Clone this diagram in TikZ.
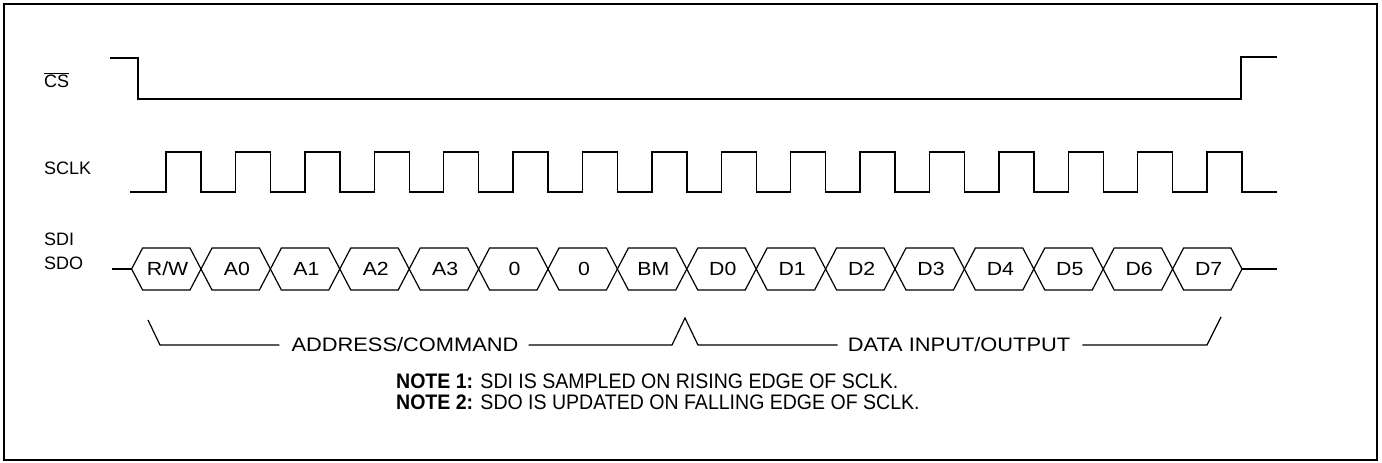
\documentclass[tikz,border=0pt]{standalone}
\usepackage{fontspec}
\setmainfont{Liberation Sans}
\newfontfamily\notefont[FakeStretch=0.93]{Liberation Sans}
\newfontfamily\widefont[FakeStretch=1.12]{Liberation Sans}
\usetikzlibrary{positioning,calc}

\begin{document}
\begin{tikzpicture}[
  x=1pt, y=-1pt,
  font=\fontsize{18}{20}\selectfont,
  frame/.style = {draw=black, line width=1.6pt},
  wave/.style  = {draw=black, line width=1.4pt},
  bus/.style   = {draw=black, line width=1.2pt},
  sig/.style   = {anchor=west, inner sep=0pt},
  bit/.style   = {inner sep=0pt, font=\widefont\fontsize{19}{20}\selectfont},
  span/.style  = {draw=black, line width=1.2pt},
  fld/.style   = {inner sep=0pt, font=\widefont\fontsize{19.5}{20}\selectfont},
  note/.style  = {anchor=west, inner sep=0pt, font=\notefont\fontsize{21}{22}\selectfont},
]
\useasboundingbox (0,0) rectangle (1382,463);
\draw[frame] (4,4) rectangle (1377,460);

% --- signal names ---------------------------------------------------------------------------------
\node[sig] (csname)   at (44,80)  {$\overline{\hbox{CS}}$};
\node[sig] (sclkname) at (44,168) {SCLK};
\node[sig] (sdiname)  at (44,239) {SDI};
\node[sig] (sdoname)  at (44,263) {SDO};

% --- chip select: one low frame round all sixteen clocks -----------------------------------------
\draw[wave] (110,58) -- (138,58) -- (138,99) -- (1241,99) -- (1241,57) -- (1277,57);

% --- serial clock, period 69.4, high for 35 ------------------------------------------------------
\draw[wave] (130,192)
  \foreach \i in {0,...,15} {
    -- ({166+69.4*\i},192) -- ({166+69.4*\i},152) -- ({201+69.4*\i},152) -- ({201+69.4*\i},192)
  } -- (1277,192);

% --- data bits, changing on the falling edges ----------------------------------------------------
\coordinate (busin)  at (112,269);
\coordinate (busout) at (1277,269);
\foreach \lbl [count=\k from 0] in {R/W,A0,A1,A2,A3,0,0,BM,D0,D1,D2,D3,D4,D5,D6,D7} {
  \pgfmathsetmacro\xl{131.6+69.4*\k}
  \draw[bus] (\xl,269) -- ++(11,-21) -- ++(47.4,0) -- ++(11,21) -- ++(-11,21) -- ++(-47.4,0) -- cycle;
  \node[bit] (bit\k) at (\xl+36,269) {\lbl};
}
\draw[bus] (busin) -- ([xshift=-36pt]bit0.center);
\draw[bus] ([xshift=33.4pt]bit15.center) -- (busout);

% --- the two fields under the bits ---------------------------------------------------------------
\node[fld] (addr) at (405,345) {ADDRESS/COMMAND};
\node[fld] (data) at (959,345) {DATA INPUT/OUTPUT};
\coordinate (addrtick) at (148,320);
\coordinate (splitpk)  at (685,318);
\coordinate (datatick) at (1221,317);
\draw[span] (addrtick) -- (160,345) -- ([xshift=-12pt]addr.west);
\draw[span] ([xshift=10pt]addr.east) -- (672,345) -- (splitpk) -- (698,345) -- ([xshift=-10pt]data.west);
\draw[span] ([xshift=12pt]data.east) -- (1207,345) -- (datatick);

% --- notes ---------------------------------------------------------------------------------------
\node[note] (note1) at (396,381) {\textbf{NOTE 1:} SDI IS SAMPLED ON RISING EDGE OF SCLK.};
\node[note] (note2) at (396,402) {\textbf{NOTE 2:} SDO IS UPDATED ON FALLING EDGE OF SCLK.};

\end{tikzpicture}
\end{document}
